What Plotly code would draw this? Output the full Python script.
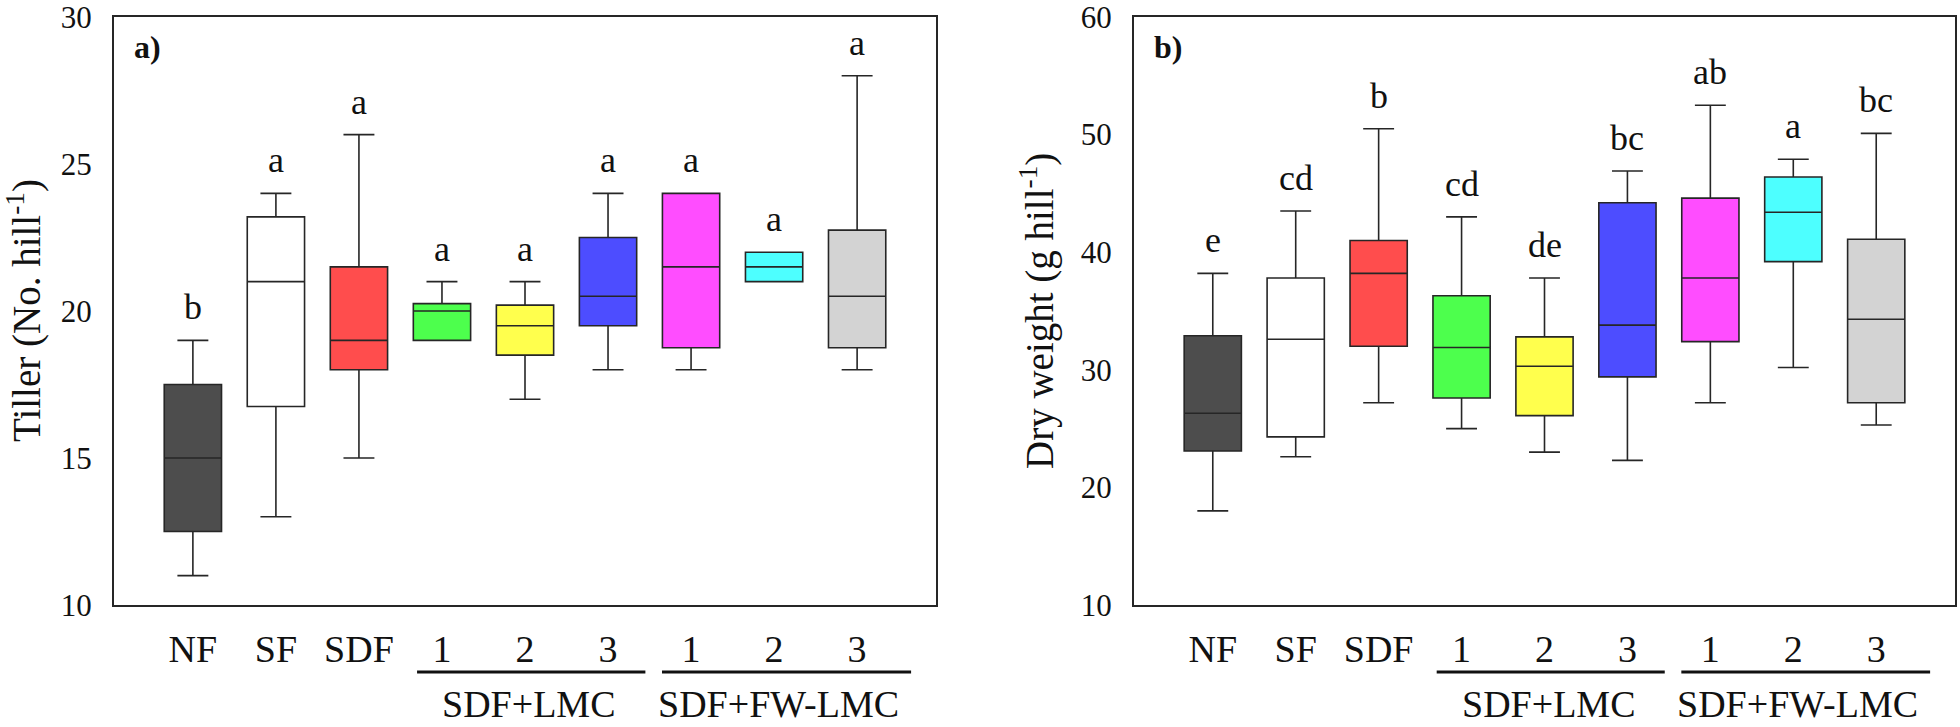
import plotly.graph_objects as go

# ---------------- data ----------------
categories = ["NF", "SF", "SDF", "1", "2", "3", "1", "2", "3"]
box_colors = ["#4d4d4d", "#ffffff", "#ff4d4d", "#4dff4d", "#ffff4d",
              "#4d4dff", "#ff4dff", "#4dffff", "#d3d3d3"]

# a) Tiller (No. hill-1)
tiller_low = [11.0, 13.0, 15.0, 19.0, 17.0, 18.0, 18.0, 21.0, 18.0]
tiller_q1 = [12.5, 16.75, 18.0, 19.0, 18.5, 19.5, 18.75, 21.0, 18.75]
tiller_med = [15.0, 21.0, 19.0, 20.0, 19.5, 20.5, 21.5, 21.5, 20.5]
tiller_q3 = [17.5, 23.2, 21.5, 20.25, 20.2, 22.5, 24.0, 22.0, 22.75]
tiller_high = [19.0, 24.0, 26.0, 21.0, 21.0, 24.0, 24.0, 22.0, 28.0]
tiller_letters = ["b", "a", "a", "a", "a", "a", "a", "a", "a"]

# b) Dry weight (g hill-1)
dw_low = [18.0, 22.6, 27.2, 25.0, 23.0, 22.3, 27.2, 30.2, 25.3]
dw_q1 = [23.1, 24.3, 32.0, 27.6, 26.1, 29.4, 32.4, 39.2, 27.2]
dw_med = [26.3, 32.6, 38.2, 31.9, 30.3, 33.8, 37.8, 43.4, 34.3]
dw_q3 = [32.9, 37.8, 41.0, 36.3, 32.8, 44.2, 44.6, 46.4, 41.1]
dw_high = [38.2, 43.5, 50.5, 43.0, 37.8, 46.9, 52.5, 47.9, 50.1]
dw_letters = ["e", "cd", "b", "cd", "de", "bc", "ab", "a", "bc"]

group_names = ["SDF+LMC", "SDF+FW-LMC"]

# ---------------- figure ----------------
FONT = "Liberation Serif"
W, H = 1960, 727
fig = go.Figure()

panels = [
    dict(xa="x", ya="y", low=tiller_low, q1=tiller_q1, med=tiller_med, q3=tiller_q3,
         high=tiller_high, letters=tiller_letters),
    dict(xa="x2", ya="y2", low=dw_low, q1=dw_q1, med=dw_med, q3=dw_q3,
         high=dw_high, letters=dw_letters),
]

positions = list(range(len(categories)))

for p in panels:
    for i, pos in enumerate(positions):
        fig.add_trace(go.Box(
            x=[pos], q1=[p["q1"][i]], median=[p["med"][i]], q3=[p["q3"][i]],
            lowerfence=[p["low"][i]], upperfence=[p["high"][i]],
            xaxis=p["xa"], yaxis=p["ya"],
            fillcolor=box_colors[i],
            line=dict(color="#262626", width=1.6),
            width=0.69, whiskerwidth=0.54,
            boxpoints=False, showlegend=False, hoverinfo="skip",
        ))
        fig.add_annotation(
            x=pos, y=p["high"][i], xref=p["xa"], yref=p["ya"],
            text=p["letters"][i], showarrow=False, yanchor="bottom",
            yshift=11, font=dict(family=FONT, size=36, color="#111"),
        )

y_bottom = 1 - 605 / H
y_top = 1 - 17 / H
xdomains = [[114 / W, 936 / W], [1134 / W, 1955 / W]]

common_x = dict(
    range=[-0.95, 8.95], tickmode="array", tickvals=positions, ticktext=categories,
    showline=True, mirror=True, linecolor="#262626", linewidth=2,
    showgrid=False, zeroline=False, ticks="", ticklabelstandoff=9,
    automargin=False,
    tickfont=dict(family=FONT, size=38, color="#111"),
)
common_y = dict(
    showline=True, mirror=True, linecolor="#262626", linewidth=2,
    showgrid=False, zeroline=False, ticks="", ticklabelstandoff=14,
    ticklabeloverflow="allow", automargin=False,
    tickfont=dict(family=FONT, size=31, color="#111"),
    domain=[y_bottom, y_top],
)

fig.update_layout(
    width=W, height=H,
    margin=dict(l=0, r=0, t=0, b=0),
    paper_bgcolor="white", plot_bgcolor="white",
    boxmode="overlay",
    showlegend=False,
    xaxis=dict(domain=xdomains[0], anchor="y", **common_x),
    xaxis2=dict(domain=xdomains[1], anchor="y2", **common_x),
    yaxis=dict(anchor="x", range=[10, 30], dtick=5, tick0=10, **common_y),
    yaxis2=dict(anchor="x2", range=[10, 60], dtick=10, tick0=10, **common_y),
)

# y-axis titles
fig.add_annotation(x=24 / W, y=1 - 311 / H, xref="paper", yref="paper",
                   text="Tiller (No. hill<sup>-1</sup>)", textangle=-90, showarrow=False,
                   xanchor="center", yanchor="middle",
                   font=dict(family=FONT, size=39, color="#111"))
fig.add_annotation(x=1037 / W, y=1 - 311 / H, xref="paper", yref="paper",
                   text="Dry weight (g hill<sup>-1</sup>)", textangle=-90, showarrow=False,
                   xanchor="center", yanchor="middle",
                   font=dict(family=FONT, size=39, color="#111"))

# panel labels
for lbl, xa in [("a)", 132), ("b)", 1152)]:
    fig.add_annotation(x=xa / W, y=1 - 47 / H, xref="paper", yref="paper",
                       text="<b>" + lbl + "</b>", showarrow=False,
                       xanchor="left", yanchor="middle",
                       font=dict(family=FONT, size=32, color="#111"))

# group lines and labels
line_y = 1 - 672 / H
label_y = 1 - 704 / H
for xa in ["x", "x2"]:
    for (x0, x1), name, xc in zip([(2.7, 5.45), (5.65, 8.65)], group_names, [4.05, 7.05]):
        fig.add_shape(type="line", xref=xa, yref="paper", x0=x0, x1=x1,
                      y0=line_y, y1=line_y, line=dict(color="#111", width=3))
        fig.add_annotation(x=xc, y=label_y, xref=xa, yref="paper", text=name,
                           showarrow=False, xanchor="center", yanchor="middle",
                           font=dict(family=FONT, size=38, color="#111"))

fig.write_html("out.html", config={"displayModeBar": False},
               post_script="document.body.style.margin='0';")
